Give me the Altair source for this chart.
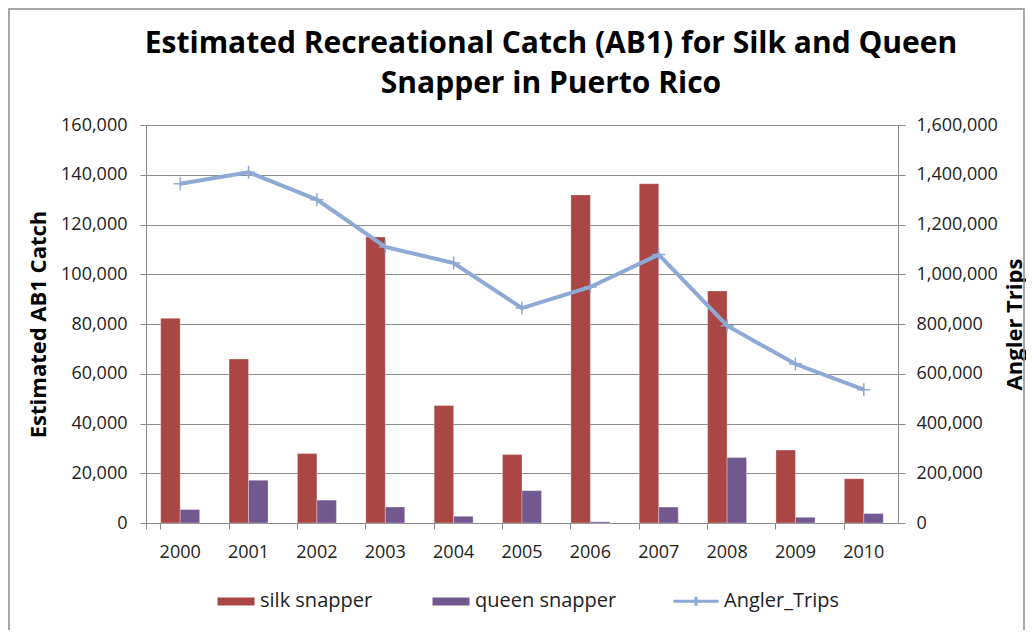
import altair as alt
import pandas as pd

years = ["2000", "2001", "2002", "2003", "2004", "2005", "2006", "2007", "2008", "2009", "2010"]
silk = [82300, 65900, 27900, 115000, 47200, 27500, 131900, 136400, 93300, 29300, 17800]
queen = [5400, 17200, 9200, 6400, 2700, 13000, 500, 6400, 26300, 2300, 3800]
trips = [1364000, 1410000, 1300000, 1110000, 1045000, 864000, 949000, 1079000, 793000, 639000, 536000]

series_names = ["silk snapper", "queen snapper", "Angler_Trips"]
colors = ["#AA4643", "#71588F", "#8DA9D4"]

bars_df = pd.DataFrame(
    [{"year": y, "series": "silk snapper", "value": v} for y, v in zip(years, silk)]
    + [{"year": y, "series": "queen snapper", "value": v} for y, v in zip(years, queen)]
)
line_df = pd.DataFrame({"year": years, "trips": trips, "series": "Angler_Trips"})

FONT = "Open Sans"

x_enc = alt.X(
    "year:N",
    sort=years,
    title=None,
    scale=alt.Scale(paddingInner=0.43, paddingOuter=0.215),
    axis=alt.Axis(
        labelAngle=0, bandPosition=0, tickExtra=True, tickSize=6,
        labelPadding=14, labelFontSize=18, labelFont=FONT, labelColor="#222",
        domainColor="#888", tickColor="#888", grid=False,
    ),
)

bars = alt.Chart(bars_df).mark_bar(stroke="#ffffff", strokeWidth=0.5, strokeOpacity=0.6).encode(
    x=x_enc,
    xOffset=alt.XOffset("series:N", sort=["silk snapper", "queen snapper"],
                        scale=alt.Scale(domain=["silk snapper", "queen snapper"])),
    y=alt.Y(
        "value:Q",
        scale=alt.Scale(domain=[0, 160000], nice=False),
        axis=alt.Axis(
            title="Estimated AB1 Catch", titleFont=FONT, titleFontSize=22, titleFontWeight="bold",
            titleColor="#000", titleAngle=-90, titleX=-108, titleY=199, titleBaseline="middle",
            titleAlign="center",
            values=[0, 20000, 40000, 60000, 80000, 100000, 120000, 140000, 160000],
            format=",.0f", tickSize=6, labelPadding=13, labelFontSize=18, labelFont=FONT,
            labelColor="#222", domainColor="#888", tickColor="#888",
            grid=True, gridColor="#8C8C8C", gridWidth=1,
        ),
    ),
    color=alt.Color("series:N", scale=alt.Scale(domain=["silk snapper", "queen snapper"],
                                               range=colors[:2]), legend=None),
)

y_right = alt.Y(
    "trips:Q",
    scale=alt.Scale(domain=[0, 1600000], nice=False),
    axis=alt.Axis(
        orient="right", title="Angler Trips", titleFont=FONT, titleFontSize=22,
        titleFontWeight="bold", titleColor="#000", titleAngle=-90, titleX=116, titleY=199,
        titleBaseline="middle", titleAlign="center",
        values=[0, 200000, 400000, 600000, 800000, 1000000, 1200000, 1400000, 1600000],
        format=",.0f", tickSize=7, labelPadding=11, labelFontSize=18, labelFont=FONT,
        labelColor="#222", domainColor="#888", tickColor="#888", grid=False,
    ),
)

line = alt.Chart(line_df).mark_line(color=colors[2], strokeWidth=4).encode(x=x_enc, y=y_right)
markers = alt.Chart(line_df).mark_point(
    shape="M-1,0H1M0,-1V1", size=169, color=colors[2], strokeWidth=1.5, filled=False, opacity=1
).encode(x=x_enc, y=y_right)

shape_paths = [
    "M-0.644,-0.178H1V0.178H-0.644Z",
    "M-0.644,-0.178H1V0.178H-0.644Z",
    "M-1,0H1M0,-0.2V0.2",
]
legend_common = dict(
    title=None, orient="none", direction="horizontal", legendX=62, legendY=452,
    symbolSize=2025, columnPadding=50, labelOffset=4, labelFont=FONT,
    labelFontSize=20, labelColor="#222", labelLimit=300, symbolOpacity=1,
    symbolStrokeWidth=3,
)
legend_layer = alt.Chart(line_df).mark_point(opacity=0, filled=True).encode(
    x=x_enc,
    y=y_right,
    shape=alt.Shape(
        "series:N",
        scale=alt.Scale(domain=series_names, range=shape_paths),
        legend=alt.Legend(**legend_common),
    ),
    fill=alt.Fill(
        "series:N",
        scale=alt.Scale(domain=series_names, range=[colors[0], colors[1], "transparent"]),
        legend=alt.Legend(**legend_common),
    ),
    stroke=alt.Stroke(
        "series:N",
        scale=alt.Scale(domain=series_names, range=["transparent", "transparent", colors[2]]),
        legend=alt.Legend(**legend_common),
    ),
)

right_layer = alt.layer(line, markers, legend_layer)

frame = alt.Chart(alt.Data(values=[{"a": 1}])).mark_rect(
    fill="transparent", stroke="#8C8C8C", strokeWidth=1.5
).encode(
    x=alt.value(-137), x2=alt.value(878), y=alt.value(-116), y2=alt.value(520)
)

chart = alt.layer(bars, right_layer, frame).resolve_scale(
    y="independent"
).properties(
    width=752,
    height=398,
    autosize=alt.AutoSizeParams(type="none"),
    padding={"left": 138, "top": 117, "right": 128, "bottom": 107},
    title=alt.Title(
        ["Estimated Recreational Catch (AB1) for Silk and Queen", "Snapper in Puerto Rico"],
        font=FONT, fontSize=30, fontWeight="bold", color="#000", anchor="middle",
        dx=29, offset=-91, lineHeight=40,
    ),
).configure_view(stroke=None).configure(background="white")

chart.save("out.html", embed_options={"renderer": "svg", "actions": False})
